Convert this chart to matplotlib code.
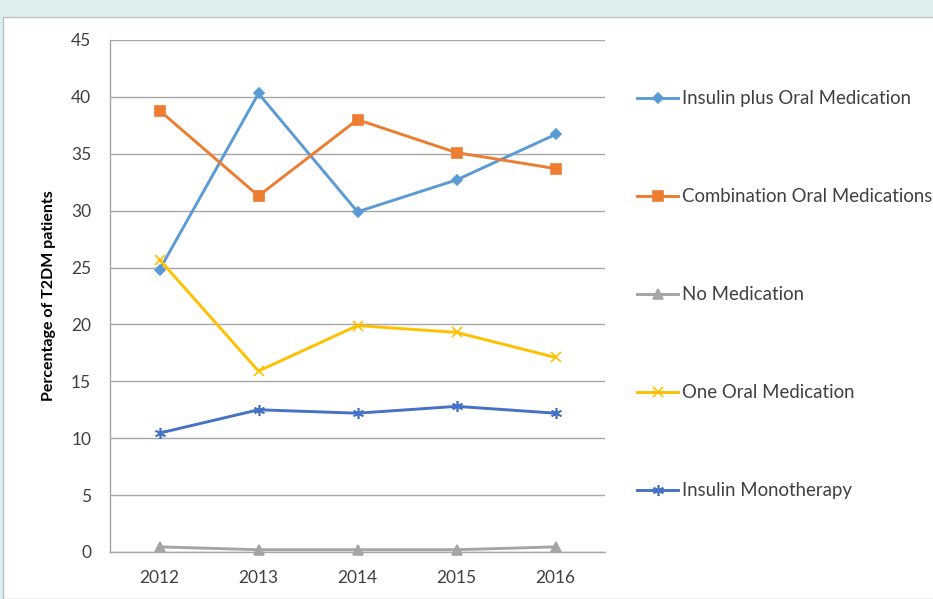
import matplotlib
matplotlib.use("Agg")
import matplotlib.pyplot as plt
from matplotlib.patches import Rectangle

plt.rcParams['font.family'] = ['Lato', 'DejaVu Sans']

years = ["2012", "2013", "2014", "2015", "2016"]
insulin_plus_oral = [24.8, 40.3, 29.9, 32.7, 36.7]
combination_oral = [38.8, 31.3, 38.0, 35.1, 33.7]
no_medication = [0.45, 0.2, 0.2, 0.2, 0.45]
one_oral = [25.7, 15.9, 19.9, 19.3, 17.1]
insulin_mono = [10.45, 12.5, 12.2, 12.8, 12.2]

series = [
    ("Insulin plus Oral Medication", insulin_plus_oral, "#5B9BD5", "D", 5),
    ("Combination Oral Medications", combination_oral, "#ED7D31", "s", 6.5),
    ("No Medication", no_medication, "#A5A5A5", "^", 6.5),
    ("One Oral Medication", one_oral, "#FFC000", "x", 7),
    ("Insulin Monotherapy", insulin_mono, "#4472C4", (6, 2, 0), 8),
]

W, H = 933, 599
fig = plt.figure(figsize=(W / 100, H / 100), dpi=100)
fig.patch.set_facecolor("#DDEFED")
fig.patches.append(Rectangle((3 / W, 0), 1, (H - 17) / H, transform=fig.transFigure,
                             facecolor="white", edgecolor="#BFBFBF", linewidth=1.0,
                             zorder=-10))

ax = fig.add_axes([110 / W, (H - 552) / H, (605 - 110) / W, (552 - 40) / H])
ax.set_zorder(1)
ax.set_facecolor("none")
x = list(range(len(years)))
handles = []
for label, vals, color, marker, ms in series:
    (h,) = ax.plot(x, vals, color=color, linewidth=2.1, marker=marker, markersize=ms,
                   markeredgecolor=color, markerfacecolor=color, markeredgewidth=1.2,
                   label=label, zorder=3, clip_on=False)
    handles.append(h)

ax.set_xlim(-0.5, len(years) - 0.5)
ax.set_ylim(0, 45)
ax.set_yticks(range(0, 46, 5))
ax.set_xticks(x)
ax.set_xticklabels(years)
ax.yaxis.grid(True, color="#A6A6A6", linewidth=1.0)
ax.set_axisbelow(True)
for s in ["top", "right"]:
    ax.spines[s].set_visible(False)
for s in ["left", "bottom"]:
    ax.spines[s].set_color("#A6A6A6")
    ax.spines[s].set_linewidth(1.0)
ax.tick_params(axis="both", length=0, labelsize=12.5, colors="#404040")
ax.tick_params(axis="y", pad=13.5)
ax.tick_params(axis="x", pad=13)
ax.set_ylabel("Percentage of T2DM patients", fontsize=11.5, fontweight="bold",
              color="black", labelpad=11)

fig.legend(handles=handles, loc="upper left", bbox_to_anchor=(628 / W, 1 - 81 / H),
           frameon=False, fontsize=13.4, labelspacing=4.35, handlelength=2.2,
           handletextpad=0.2, borderpad=0, labelcolor="#404040")

fig.savefig("out.png", dpi=100)
